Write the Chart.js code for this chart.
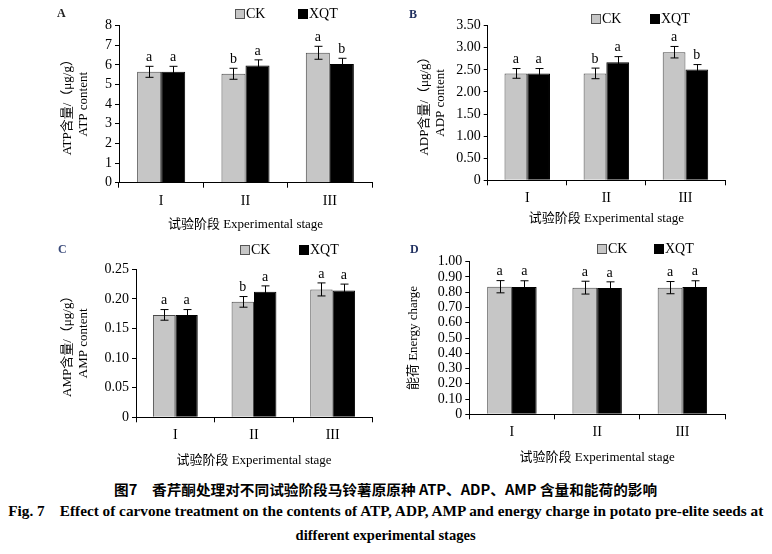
<!DOCTYPE html>
<html>
<head>
<meta charset="utf-8">
<script src="https://cdn.jsdelivr.net/npm/chart.js@4.4.1/dist/chart.umd.min.js"></script>
<style>
  body { margin: 0; background: #fff; width: 772px; height: 554px; position: relative; overflow: hidden;
         font-family: 'Liberation Serif', 'Noto Sans CJK SC', serif; color: #000; }
  canvas { position: absolute; }
  .lg { position: absolute; font-size: 14px; line-height: 14px; white-space: nowrap; }
  .sw { display: inline-block; width: 10px; height: 10px; box-sizing: border-box; margin-right: 1px; vertical-align: -1px; }
  .ck { background: #c6c6c6; border: 1.5px solid #555; }
  .xqt { background: #000; }
  .pl { position: absolute; font-size: 12px; font-weight: bold; }
  .cap { position: absolute; left: 0; width: 772px; text-align: center; font-weight: bold; font-size: 14px; line-height: 18px; white-space: nowrap; }
  .cap span { display: inline-block; transform-origin: center; }
</style>
</head>
<body>
<canvas id="cA" width="340" height="232" style="left:50px;top:0px;width:340px;height:232px"></canvas>
<canvas id="cB" width="340" height="232" style="left:400px;top:0px;width:340px;height:232px"></canvas>
<canvas id="cC" width="340" height="240" style="left:50px;top:232px;width:340px;height:240px"></canvas>
<canvas id="cD" width="340" height="240" style="left:400px;top:232px;width:340px;height:240px"></canvas>

<div class="pl" style="left:57px;top:6px;color:#222">A</div>
<div class="pl" style="left:409px;top:7px;color:#1f2f5f">B</div>
<div class="pl" style="left:58px;top:242px;color:#3a4a7a">C</div>
<div class="pl" style="left:410px;top:242px;color:#1f2f5f">D</div>

<div class="lg" style="left:235px;top:7px"><span class="sw ck"></span>CK</div>
<div class="lg" style="left:298px;top:7px"><span class="sw xqt"></span>XQT</div>
<div class="lg" style="left:591px;top:12px"><span class="sw ck"></span>CK</div>
<div class="lg" style="left:650px;top:12px"><span class="sw xqt"></span>XQT</div>
<div class="lg" style="left:240px;top:243px"><span class="sw ck"></span>CK</div>
<div class="lg" style="left:299px;top:243px"><span class="sw xqt"></span>XQT</div>
<div class="lg" style="left:597px;top:242px"><span class="sw ck"></span>CK</div>
<div class="lg" style="left:654px;top:242px"><span class="sw xqt"></span>XQT</div>

<div class="cap" style="top:480px;font-family:'Noto Sans CJK SC','Liberation Serif',serif"><span id="cap1">图7&emsp;香芹酮处理对不同试验阶段马铃薯原原种 ATP、ADP、AMP 含量和能荷的影响</span></div>
<div class="cap" style="top:503px"><span id="cap2">Fig. 7&emsp;Effect of carvone treatment on the contents of ATP, ADP, AMP and energy charge in potato pre-elite seeds at</span></div>
<div class="cap" style="top:527px"><span id="cap3">different experimental stages</span></div>

<script>
// stages on the x axis
const stages = ["I", "II", "III"];

// ATP content (μg/g)
const atpCK = [5.65, 5.55, 6.62];
const atpXQT = [5.65, 5.97, 6.05];
const atpCKErr = [0.28, 0.28, 0.33];
const atpXQTErr = [0.28, 0.29, 0.29];
const atpCKSig = ["a", "b", "a"];
const atpXQTSig = ["a", "a", "b"];

// ADP content (μg/g)
const adpCK = [2.42, 2.42, 2.90];
const adpXQT = [2.42, 2.67, 2.51];
const adpCKErr = [0.11, 0.12, 0.13];
const adpXQTErr = [0.11, 0.13, 0.11];
const adpCKSig = ["a", "b", "a"];
const adpXQTSig = ["a", "a", "b"];

// AMP content (μg/g)
const ampCK = [0.173, 0.195, 0.216];
const ampXQT = [0.173, 0.212, 0.214];
const ampCKErr = [0.009, 0.009, 0.011];
const ampXQTErr = [0.009, 0.010, 0.011];
const ampCKSig = ["a", "b", "a"];
const ampXQTSig = ["a", "a", "a"];

// energy charge
const ecCK = [0.836, 0.830, 0.830];
const ecXQT = [0.835, 0.828, 0.835];
const ecCKErr = [0.040, 0.042, 0.040];
const ecXQTErr = [0.040, 0.040, 0.040];
const ecCKSig = ["a", "a", "a"];
const ecXQTSig = ["a", "a", "a"];

const FONT = "'Liberation Serif', 'Noto Sans CJK SC', serif";

// error bars + significance letters
const errPlugin = {
  id: "errbars",
  afterDatasetsDraw(chart, args, o) {
    const ctx = chart.ctx
    const y = chart.scales.y
    ctx.save()
    chart.data.datasets.forEach((ds, i) => {
      chart.getDatasetMeta(i).data.forEach((bar, j) => {
        const v = ds.data[j], e = o.errors[i][j]
        const yt = y.getPixelForValue(v + e), yb = y.getPixelForValue(v - e)
        const x = Math.round(bar.x) + 0.5
        ctx.strokeStyle = "#000"
        ctx.lineWidth = 1
        ctx.beginPath()
        ctx.moveTo(x, yt); ctx.lineTo(x, yb)
        ctx.moveTo(x - 4, yt); ctx.lineTo(x + 4, yt)
        ctx.moveTo(x - 4, yb); ctx.lineTo(x + 4, yb)
        ctx.stroke()
        ctx.fillStyle = "#000"
        ctx.font = "14px " + FONT
        ctx.textAlign = "center"
        ctx.textBaseline = "bottom"
        ctx.fillText(o.letters[i][j], bar.x, yt - 2)
      })
    })
    ctx.restore()
  },
}

function makePanel(id, ck, xqt, ckErr, xqtErr, ckSig, xqtSig, yMax, yStep, dec, yTitle, L) {
  new Chart(document.getElementById(id), {
    type: "bar",
    data: {
      labels: stages,
      datasets: [
        { label: "CK", data: ck, backgroundColor: "#c6c6c6", borderColor: "#4a4a4a", borderWidth: 1 },
        { label: "XQT", data: xqt, backgroundColor: "#000", borderColor: "#000", borderWidth: 1 },
      ],
    },
    options: {
      responsive: false,
      animation: false,
      categoryPercentage: L.cp,
      barPercentage: 1,
      layout: { padding: { left: 0, top: L.top, right: L.right, bottom: 0 } },
      plugins: {
        legend: { display: false },
        tooltip: { enabled: false },
        errbars: { errors: [ckErr, xqtErr], letters: [ckSig, xqtSig] },
      },
      scales: {
        x: {
          grid: { offset: true, drawOnChartArea: false, tickLength: 5, color: "#000" },
          border: { color: "#000" },
          ticks: { color: "#000", font: { size: 14, family: FONT }, padding: 5 },
          title: { display: true, text: "试验阶段 Experimental stage", color: "#000",
                   font: { size: 13, family: FONT }, padding: { top: 0, bottom: L.xtb } },
          afterFit: (s) => { s.height = L.xh },
        },
        y: {
          min: 0,
          max: yMax,
          ticks: { stepSize: yStep, autoSkip: false, color: "#000", font: { size: 14, family: FONT }, padding: 3,
                   callback: (v) => (v === 0 ? "0" : v.toFixed(dec)) },
          grid: { drawOnChartArea: false, tickLength: 4, color: "#000" },
          border: { color: "#000" },
          title: { display: true, text: yTitle, color: "#000",
                   font: { size: 13, family: FONT, lineHeight: 1.23 }, padding: { top: L.ytp, bottom: 0 } },
          afterFit: (s) => { s.width = L.yw },
        },
      },
    },
    plugins: [errPlugin],
  })
}

makePanel("cA", atpCK, atpXQT, atpCKErr, atpXQTErr, atpCKSig, atpXQTSig, 8, 1, 0,
  ["ATP含量/（μg/g）", "ATP content"],
  { cp: 0.57, top: 25.7, right: 18, yw: 69, xh: 49.3, ytp: 10, xtb: 0 })

makePanel("cB", adpCK, adpXQT, adpCKErr, adpXQTErr, adpCKSig, adpXQTSig, 3.5, 0.5, 2,
  ["ADP含量/（μg/g）", "ADP content"],
  { cp: 0.575, top: 25.7, right: 15, yw: 87.7, xh: 51.7, ytp: 17, xtb: 6 })

makePanel("cC", ampCK, ampXQT, ampCKErr, ampXQTErr, ampCKSig, ampXQTSig, 0.25, 0.05, 2,
  ["AMP含量/（μg/g）", "AMP content"],
  { cp: 0.57, top: 37.3, right: 18, yw: 86, xh: 54.7, ytp: 10, xtb: 4 })

makePanel("cD", ecCK, ecXQT, ecCKErr, ecXQTErr, ecCKSig, ecXQTSig, 1, 0.1, 2,
  "能荷 Energy charge",
  { cp: 0.58, top: 29.7, right: 15, yw: 69.3, xh: 57.7, ytp: 6, xtb: 7 })

// squeeze caption lines to the reference widths
function fitWidth(id, target) {
  const el = document.getElementById(id)
  const w = el.getBoundingClientRect().width
  el.style.transform = "scaleX(" + target / w + ")"
}
fitWidth("cap1", 543)
fitWidth("cap2", 755)
fitWidth("cap3", 180)
</script>
</body>
</html>
